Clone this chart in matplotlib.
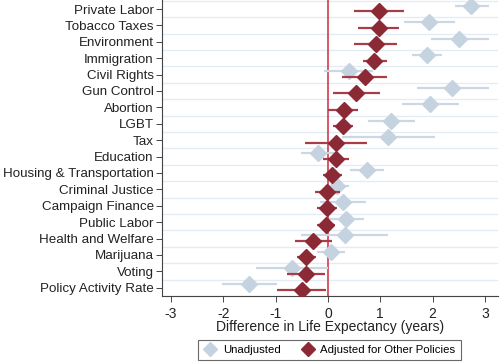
import matplotlib
matplotlib.use("Agg")
import matplotlib.pyplot as plt
from matplotlib.lines import Line2D
import numpy as np

plt.rcParams['font.family'] = ['Liberation Sans', 'DejaVu Sans']

categories = ["Private Labor", "Tobacco Taxes", "Environment", "Immigration", "Civil Rights",
              "Gun Control", "Abortion", "LGBT", "Tax", "Education", "Housing & Transportation",
              "Criminal Justice", "Campaign Finance", "Public Labor", "Health and Welfare",
              "Marijuana", "Voting", "Policy Activity Rate"]

unadj_est = [2.74, 1.94, 2.51, 1.89, 0.40, 2.38, 1.95, 1.21, 1.15, -0.18, 0.74, 0.18, 0.28, 0.35, 0.33, 0.06, -0.68, -1.50]
unadj_lo = [2.42, 1.46, 1.97, 1.60, -0.07, 1.70, 1.41, 0.76, 0.26, -0.51, 0.42, -0.05, -0.16, 0.02, -0.51, -0.20, -1.37, -2.03]
unadj_hi = [3.07, 2.42, 3.07, 2.18, 0.87, 3.07, 2.50, 1.67, 2.04, 0.13, 1.08, 0.41, 0.73, 0.69, 1.14, 0.33, 0.00, -0.97]

adj_est = [0.97, 0.97, 0.91, 0.89, 0.70, 0.54, 0.30, 0.28, 0.16, 0.16, 0.08, -0.01, -0.01, -0.04, -0.29, -0.41, -0.41, -0.50]
adj_lo = [0.49, 0.58, 0.50, 0.67, 0.27, 0.09, 0.01, 0.10, -0.43, -0.10, -0.10, -0.25, -0.20, -0.21, -0.63, -0.60, -0.79, -0.97]
adj_hi = [1.46, 1.36, 1.32, 1.13, 1.13, 0.99, 0.58, 0.47, 0.75, 0.40, 0.27, 0.24, 0.18, 0.13, 0.07, -0.22, -0.06, -0.04]

xticks = [-3, -2, -1, 0, 1, 2, 3]

c_un = "#c5d3e0"
c_un_line = "#cbd8e3"
c_adj = "#8b2a35"
c_adj_line = "#a83c48"
c_zero = "#d44a5c"

fig = plt.figure(figsize=(5.0, 3.64), dpi=100)
ax = fig.add_axes([0.324, 0.187, 0.672, 0.813])

n = len(categories)
y = np.arange(n)

# gridlines between categories
for g in np.arange(-0.5, n, 1.0):
    ax.axhline(g, color="#e3ecf2", lw=1.0, zorder=0)

ax.axvline(0, color=c_zero, lw=1.3, zorder=1)

yu = y - 0.2
ya = y + 0.15
ax.hlines(yu, unadj_lo, unadj_hi, color=c_un_line, lw=1.6, zorder=2)
ax.plot(unadj_est, yu, linestyle="none", marker="D", ms=8.5, color=c_un, zorder=3)
ax.hlines(ya, adj_lo, adj_hi, color=c_adj_line, lw=1.6, zorder=4)
ax.plot(adj_est, ya, linestyle="none", marker="D", ms=8.5, color=c_adj, zorder=5)

ax.set_yticks(y)
ax.set_yticklabels(categories, fontsize=9.6, color="#222222")
ax.set_ylim(n - 0.5, -0.55)
ax.set_xlim(-3.17, 3.25)
ax.set_xticks(xticks)
ax.set_xticklabels([str(t) for t in xticks], fontsize=10, color="#222222")
ax.set_xlabel("Difference in Life Expectancy (years)", fontsize=10, color="#222222", labelpad=-1)

for s in ["top", "right"]:
    ax.spines[s].set_visible(False)
for s in ["left", "bottom"]:
    ax.spines[s].set_color("#444444")
    ax.spines[s].set_linewidth(0.8)
ax.tick_params(axis="y", length=4, width=0.7, color="#444444", pad=2)
ax.tick_params(axis="x", length=4, width=0.7, color="#444444", pad=4)

handles = [Line2D([], [], linestyle="none", marker="D", ms=7, color=c_un),
           Line2D([], [], linestyle="none", marker="D", ms=7, color=c_adj)]
leg = fig.legend(handles, ["Unadjusted", "Adjusted for Other Policies"], loc="lower center",
                 bbox_to_anchor=(0.659, -0.005), ncol=2, fontsize=8.2, frameon=True, fancybox=False,
                 edgecolor="#444444", handletextpad=0.5, columnspacing=1.8, borderpad=0.45,
                 handlelength=1.2)
leg.get_frame().set_linewidth(0.8)

fig.savefig("out.png", dpi=100)
